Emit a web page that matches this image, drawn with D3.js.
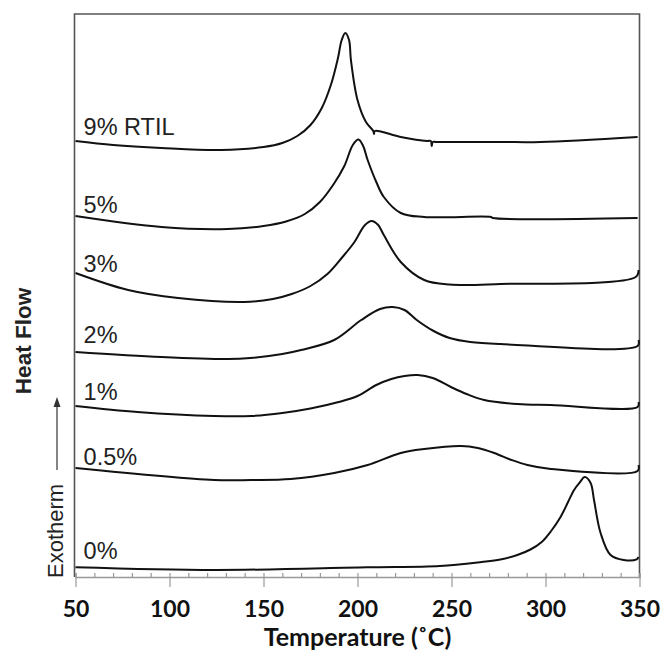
<!DOCTYPE html>
<html>
<head>
<meta charset="utf-8">
<script src="https://cdn.jsdelivr.net/npm/d3@7"></script>
<style>
  body { margin: 0; background: #fff; }
  .tick text { font-family: Lato, "Open Sans", sans-serif; font-weight: bold; font-size: 23px; fill: #111; }
  .lbl { font-family: "Liberation Sans", Arial, sans-serif; font-size: 23.5px; fill: #222; }
</style>
</head>
<body>
<div id="chart"></div>
<script>
// heat flow in arbitrary units, curves stacked with an offset
const labels = ["9% RTIL", "5%", "3%", "2%", "1%", "0.5%", "0%"]
const labelLevel = [44.2, 36.4, 30.5, 23.4, 17.7, 11.2, 1.8]

const curve9 = [[50,43.6],[70,43.2],[95.7,42.9],[127.5,42.7],[150,43.0],[160,43.4],[168,44.1],[175,45.2],
  [181,46.9],[186,49.3],[189.5,51.8],[191.6,53.7],[193.5,54.4],[195.5,53.7],[196.5,51.7],[200,47.7],[204.5,45.5],
  [208.4,44.6],[208.8,44.3],[209.2,44.6],[223,44.0],[237,43.6],[239,43.6],[239.5,43.1],[240,43.5],
  [242,43.5],[276,43.5],[297.5,43.5],[349,44.0]]
const curve5 = [[50,36.1],[95.7,35.0],[131,34.8],[150,35.1],[162,35.55],[172,36.3],[180,37.5],[187,39.2],
  [193,41.1],[197.5,43.2],[200.5,43.75],[203,43.1],[205.4,41.7],[210,39.5],[214,38.0],[223,36.4],
  [235.5,36.0],[271,36.0],[272,35.9],[349,35.9]]
const curve3 = [[50,30.4],[78,28.7],[104.6,27.9],[139.8,27.5],[155,27.8],[165,28.3],[175,29.1],[184,30.3],
  [192,32.0],[198,33.4],[204,35.2],[207.5,35.6],[211,35.2],[214,34.2],[223,31.5],[235.5,29.7],[249,29.25],
  [276,29.3],[348,30.0],[349.5,30.7]]
const curve2 = [[50,22.5],[95.7,22.0],[131,21.8],[143,21.9],[160,22.3],[170,22.7],[187.6,23.7],[202,25.7],
  [212,26.8],[218.7,27.0],[225,26.7],[231.5,25.7],[240,24.65],[249,23.9],[260,23.5],[276,23.3],[349,23.1],[349.5,23.7]]
const curve1 = [[50,17.1],[83,16.5],[123.8,16.1],[143.5,16.1],[160,16.4],[175,16.85],[190,17.5],[200,18.1],
  [210,19.2],[218,19.8],[225,20.1],[232,20.2],[240,19.9],[249.7,19.0],[258,18.3],[267.4,17.7],[285,17.3],
  [302.8,17.2],[349,17.0],[349.5,17.5]]
const curve05 = [[50,10.9],[123.8,9.7],[143.5,9.7],[164.5,9.8],[187.6,10.4],[205.4,11.2],[223,12.4],[235.5,12.8],
  [255,13.1],[264,12.9],[272.7,12.4],[282,11.7],[290.4,11.2],[302.8,10.8],[349,10.6],[349.5,11.2]]
const curve0 = [[50,0.97],[123.8,0.7],[205,0.97],[243.8,1.1],[266,1.5],[276,1.75],[285,2.2],[292,2.75],
  [298,3.5],[303,4.6],[308,6.0],[312,7.5],[315.2,8.7],[318,9.4],[320.9,10.0],[324,9.4],[325.8,7.7],[329.3,4.4],
  [334.6,2.2],[341.6,1.7],[348.5,1.77],[349.5,2.0]]
const curves = [curve9, curve5, curve3, curve2, curve1, curve05, curve0]

const majorTicks = [50, 100, 150, 200, 250, 300, 350]

const width = 663, height = 658
const x = d3.scaleLinear().domain([50, 350]).range([75.5, 639.5])
const y = d3.scaleLinear().domain([0, 56.3]).range([577, 14])

const svg = d3.select('#chart').append('svg')
  .attr('width', width)
  .attr('height', height)

// frame
svg.append('path')
  .attr('d', `M${x(50) - 1},${y(0)}V${y(56.3)}H${x(350)}V${y(0)}`)
  .attr('fill', 'none')
  .attr('stroke', '#555')
  .attr('stroke-width', 1.6)

// minor ticks pointing up, major ticks pointing down with labels
const minor = svg.append('g')
  .attr('transform', `translate(0, ${y(0)})`)
  .call(d3.axisTop(x).tickValues(d3.range(50, 351, 10)).tickSize(4).tickFormat(''))
minor.select('.domain').attr('stroke', '#999').attr('stroke-width', 1.5)
minor.selectAll('.tick line').attr('stroke', '#999').attr('stroke-width', 1.2)

const major = svg.append('g')
  .attr('transform', `translate(0, ${y(0)})`)
  .call(d3.axisBottom(x).tickValues(majorTicks).tickSize(10).tickFormat(d3.format('d')))
major.select('.domain').remove()
major.selectAll('.tick line').attr('stroke', '#999').attr('stroke-width', 1.2)
major.selectAll('.tick text').attr('y', 40).attr('dy', null)

svg.append('text')
  .attr('x', x(200))
  .attr('y', 646)
  .attr('text-anchor', 'middle')
  .style('font-family', 'Lato, sans-serif')
  .style('font-weight', 'bold')
  .style('font-size', '25px')
  .attr('fill', '#111')
  .text('Temperature (˚C)')

// y side labels
svg.append('text')
  .attr('transform', 'translate(31, 341) rotate(-90)')
  .attr('text-anchor', 'middle')
  .attr('class', 'lbl')
  .style('font-weight', 'bold')
  .style('font-size', '22.5px')
  .attr('fill', '#111')
  .text('Heat Flow')

svg.append('text')
  .attr('transform', 'translate(63, 578) rotate(-90)')
  .attr('class', 'lbl')
  .style('font-size', '22px')
  .text('Exotherm')

svg.append('line')
  .attr('x1', 57).attr('x2', 57)
  .attr('y1', 470).attr('y2', 404)
  .attr('stroke', '#333')
  .attr('stroke-width', 1.2)
svg.append('path')
  .attr('d', 'M57,397L53.5,407L60.5,407Z')
  .attr('fill', '#333')

// curves
const line = d3.line()
  .x(d => x(d[0]))
  .y(d => y(d[1]))
  .curve(d3.curveCatmullRom.alpha(0.5))

svg.selectAll('.curve')
  .data(curves)
  .join('path')
  .attr('class', 'curve')
  .attr('d', line)
  .attr('fill', 'none')
  .attr('stroke', '#111')
  .attr('stroke-width', 2)

svg.selectAll('.name')
  .data(labels)
  .join('text')
  .attr('class', 'name lbl')
  .attr('x', x(54.3))
  .attr('y', (d, i) => y(labelLevel[i]))
  .text(d => d)
</script>
</body>
</html>
